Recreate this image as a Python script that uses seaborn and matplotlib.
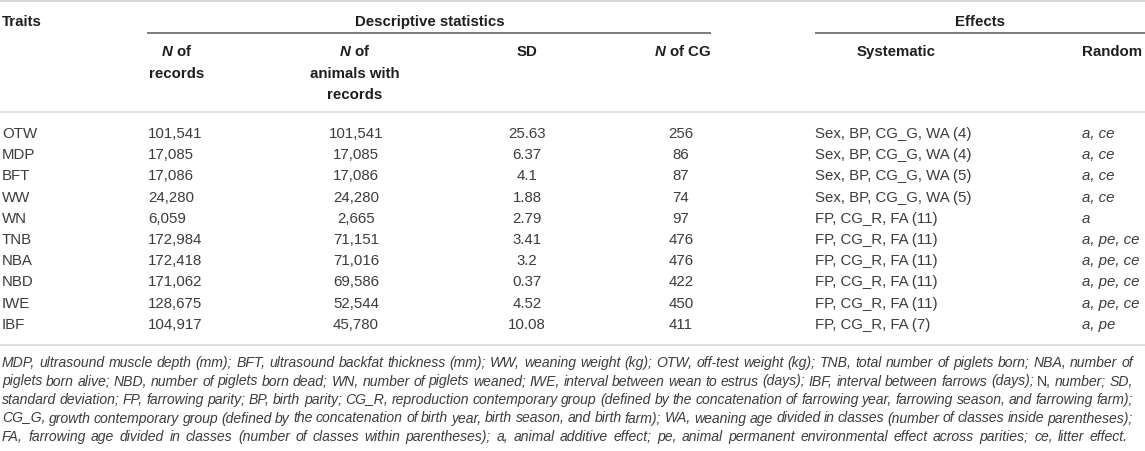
import matplotlib
matplotlib.use('Agg')
import matplotlib.pyplot as plt
import seaborn as sns
import pandas as pd

# table values
traits = ['OTW', 'MDP', 'BFT', 'WW', 'WN', 'TNB', 'NBA', 'NBD', 'IWE', 'IBF']
n_records = [101541, 17085, 17086, 24280, 6059, 172984, 172418, 171062, 128675, 104917]
n_animals = [101541, 17085, 17086, 24280, 2665, 71151, 71016, 69586, 52544, 45780]
sd = [25.63, 6.37, 4.1, 1.88, 2.79, 3.41, 3.2, 0.37, 4.52, 10.08]
n_cg = [256, 86, 87, 74, 97, 476, 476, 422, 450, 411]
systematic = ['Sex, BP, CG_G, WA (4)', 'Sex, BP, CG_G, WA (4)', 'Sex, BP, CG_G, WA (5)',
              'Sex, BP, CG_G, WA (5)', 'FP, CG_R, FA (11)', 'FP, CG_R, FA (11)',
              'FP, CG_R, FA (11)', 'FP, CG_R, FA (11)', 'FP, CG_R, FA (11)', 'FP, CG_R, FA (7)']
random_eff = ['a, ce', 'a, ce', 'a, ce', 'a, ce', 'a', 'a, pe, ce', 'a, pe, ce',
              'a, pe, ce', 'a, pe, ce', 'a, pe']

footnote = [
    'MDP, ultrasound muscle depth (mm); BFT, ultrasound backfat thickness (mm); WW, weaning weight (kg); OTW, off-test weight (kg); TNB, total number of piglets born; NBA, number of',
    'piglets born alive; NBD, number of piglets born dead; WN, number of piglets weaned; IWE, interval between wean to estrus (days); IBF, interval between farrows (days); N, number; SD,',
    'standard deviation; FP, farrowing parity; BP, birth parity; CG_R, reproduction contemporary group (defined by the concatenation of farrowing year, farrowing season, and farrowing farm);',
    'CG_G, growth contemporary group (defined by the concatenation of birth year, birth season, and birth farm); WA, weaning age divided in classes (number of classes inside parentheses);',
    'FA, farrowing age divided in classes (number of classes within parentheses); a, animal additive effect; pe, animal permanent environmental effect across parities; ce, litter effect.',
]

df = pd.DataFrame({'trait': traits, 'n_rec': n_records, 'n_ani': n_animals, 'sd': sd,
                   'n_cg': n_cg, 'sys': systematic, 'rand': random_eff})

sns.set_theme(style='white')
plt.rcParams['font.family'] = ['Liberation Sans', 'DejaVu Sans']
plt.rcParams['mathtext.fontset'] = 'custom'
plt.rcParams['mathtext.it'] = 'Liberation Sans:italic:bold'
plt.rcParams['mathtext.rm'] = 'Liberation Sans:bold'
plt.rcParams['mathtext.bf'] = 'Liberation Sans:bold'

fig = plt.figure(figsize=(11.45, 4.51), dpi=100)
ax = fig.add_axes([0, 0, 1, 1])
ax.set_xlim(0, 1145)
ax.set_ylim(451, 0)
ax.set_axis_off()

light = '#d6d6d6'
dark = '#7d7d7d'
ax.hlines(1, 0, 1145, color=light, lw=1.3)
ax.hlines(33, 147, 711, color=dark, lw=1.4)
ax.hlines(33, 815, 1145, color=dark, lw=1.4)
ax.hlines(112, 0, 1145, color=light, lw=1.1)
ax.hlines(345, 0, 1145, color=light, lw=1.1)

hdr = dict(fontsize=10.8, fontweight='bold', color='#1e1e1e', va='baseline')
ax.text(2, 26, 'Traits', ha='left', **hdr)
ax.text(429.5, 26, 'Descriptive statistics', ha='center', **hdr)
ax.text(980, 26, 'Effects', ha='center', **hdr)

ax.text(177, 56, r'$N$ of', ha='center', **hdr)
ax.text(177, 77.5, 'records', ha='center', **hdr)
ax.text(355, 56, r'$N$ of', ha='center', **hdr)
ax.text(355, 77.5, 'animals with', ha='center', **hdr)
ax.text(355, 99, 'records', ha='center', **hdr)
ax.text(527, 56, 'SD', ha='center', **hdr)
ax.text(711, 56, r'$N$ of CG', ha='right', **hdr)
ax.text(896, 56, 'Systematic', ha='center', **hdr)
ax.text(1082, 56, 'Random', ha='left', **hdr)

body = dict(fontsize=10.8, color='#3c3c3c', va='baseline')
for i, row in df.iterrows():
    y = 138 + 21.2 * i
    ax.text(2, y, row['trait'], ha='left', **body)
    ax.text(148, y, f"{row['n_rec']:,}", ha='left', **body)
    ax.text(356, y, f"{row['n_ani']:,}", ha='center', **body)
    ax.text(527, y, str(row['sd']), ha='center', **body)
    ax.text(681, y, str(row['n_cg']), ha='center', **body)
    ax.text(815, y, row['sys'], ha='left', **body)
    ax.text(1082, y, row['rand'], ha='left', style='italic', **body)

# footnote, justified like the source
renderer = fig.canvas.get_renderer()
fn = dict(fontsize=10.1, color='#3c3c3c', va='baseline', ha='left')
for j, line in enumerate(footnote):
    y = 367 + 18.5 * j
    words = line.split(' ')
    texts = [ax.text(0, y, w, style='normal' if w == 'N,' else 'italic', **fn) for w in words]
    widths = [t.get_window_extent(renderer).width for t in texts]
    right = 1133 if j < len(footnote) - 1 else 1128
    gap = (right - 2 - sum(widths)) / (len(words) - 1)
    x = 2
    for t, w in zip(texts, widths):
        t.set_x(x)
        x += w + gap

fig.savefig('out.png', dpi=100)
